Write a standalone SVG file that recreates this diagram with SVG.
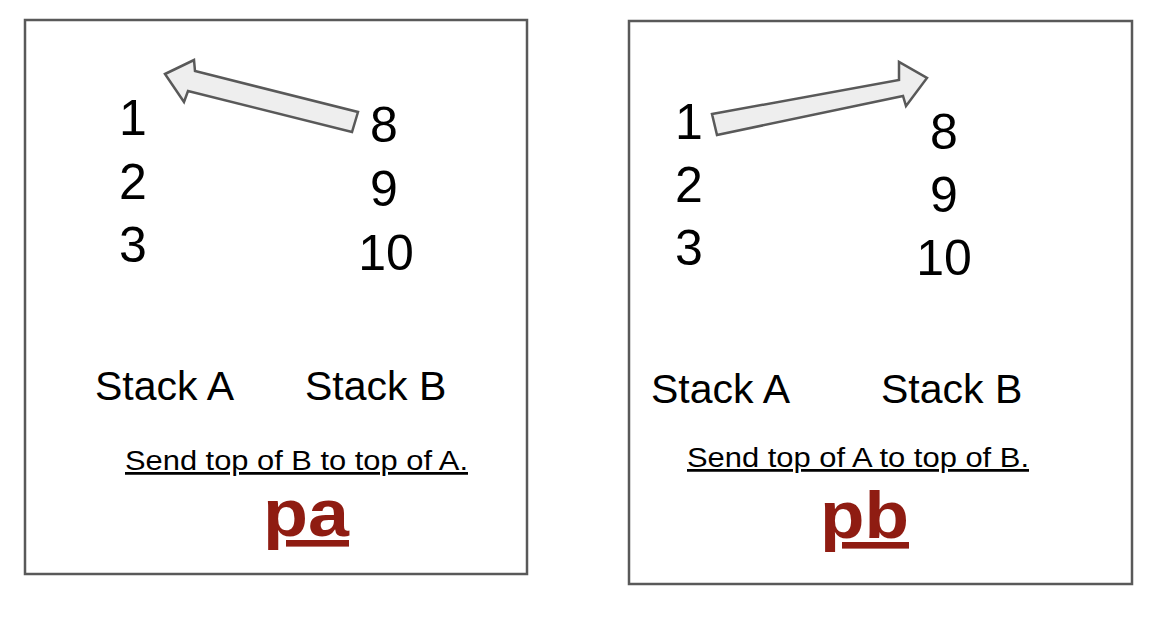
<svg xmlns="http://www.w3.org/2000/svg" width="1158" height="620" viewBox="0 0 1158 620">
<style>
.box{fill:#ffffff;stroke:#595959;stroke-width:2.5}
.arrow{fill:#eeeeee;stroke:#595959;stroke-width:2.5;stroke-linejoin:miter}
.num{font-family:"Liberation Sans",Arial,sans-serif;font-size:50px;fill:#000;text-anchor:middle}
.lbl{font-family:"Liberation Sans",Arial,sans-serif;font-size:41px;fill:#000}
.sub{font-family:"Liberation Sans",Arial,sans-serif;font-size:27.5px;fill:#000;text-decoration:underline}
.op{font-family:"Liberation Sans",Arial,sans-serif;font-size:66px;font-weight:bold;fill:#8f1c12;text-decoration:underline}
</style>
<rect width="1158" height="620" fill="#ffffff"/>
<g id="panel-pa">
<rect class="box" x="25" y="20" width="502" height="554"/>
<text class="num" x="133" y="135">1</text>
<text class="num" x="133" y="199">2</text>
<text class="num" x="133" y="262">3</text>
<text class="num" x="384" y="142">8</text>
<text class="num" x="384" y="206">9</text>
<text class="num" x="386" y="270">10</text>
<text class="lbl" x="95" y="400">Stack A</text>
<text class="lbl" x="305" y="400">Stack B</text>
<text class="sub" x="125" y="470" textLength="343" lengthAdjust="spacingAndGlyphs">Send top of B to top of A.</text>
<text class="op" x="263" y="536" textLength="86" lengthAdjust="spacingAndGlyphs">pa</text>
</g>
<g id="panel-pb">
<rect class="box" x="629" y="21" width="503" height="563"/>
<text class="num" x="689" y="139">1</text>
<text class="num" x="689" y="202">2</text>
<text class="num" x="689" y="265">3</text>
<text class="num" x="944" y="149">8</text>
<text class="num" x="944" y="212">9</text>
<text class="num" x="944" y="275">10</text>
<text class="lbl" x="651" y="403">Stack A</text>
<text class="lbl" x="881" y="403">Stack B</text>
<text class="sub" x="687" y="467" textLength="342" lengthAdjust="spacingAndGlyphs">Send top of A to top of B.</text>
<text class="op" x="820" y="538" textLength="89" lengthAdjust="spacingAndGlyphs">pb</text>
</g>
<g id="connectors">
<polygon class="arrow" points="165,74 194,60 195,71 358,112 352,132 188,91 184,102"/>
<polygon class="arrow" points="712,114 899,80 899,62 927,78 906,106 903,96 717,135"/>
</g>
</svg>
